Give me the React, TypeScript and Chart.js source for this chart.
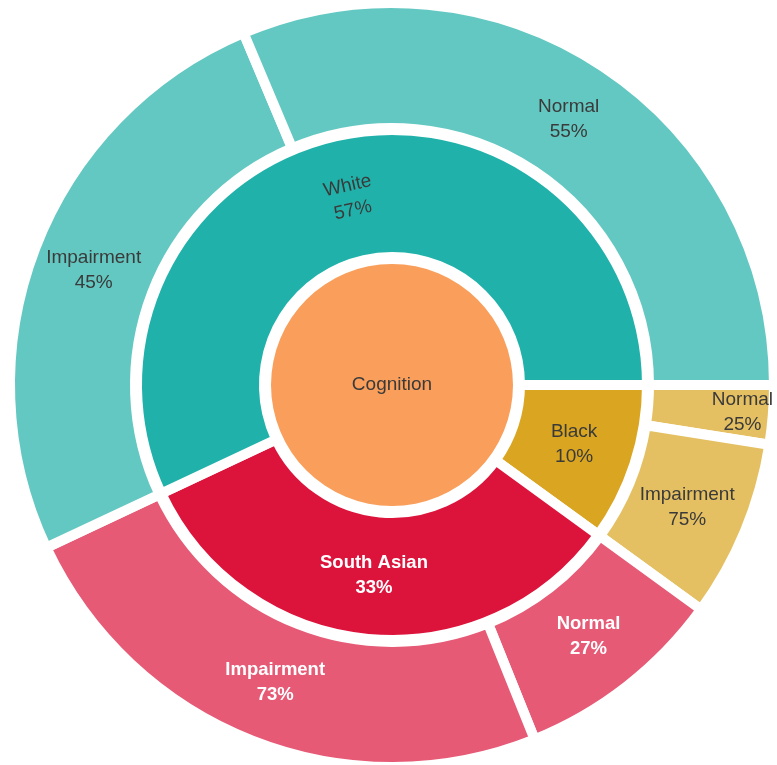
import React, { useEffect, useRef } from "react";
import { Chart, registerables } from "chart.js";

Chart.register(...registerables);

// ---- data ----
const ROOT_LABEL = "Cognition";
const GROUPS = ["Black", "South Asian", "White"];
const GROUP_SHARE = [10, 33, 57];
const CHILD_NAMES = [
  ["Normal", "Impairment"],
  ["Normal", "Impairment"],
  ["Impairment", "Normal"],
];
const CHILD_SHARE = [
  [25, 75],
  [27, 73],
  [45, 55],
];

// ---- styles ----
const ROOT_COLOR = "#f99f5b";
const GROUP_COLORS = ["#daa520", "#dc143c", "#20b2aa"];
const CHILD_COLORS = ["#e5c063", "#e65a76", "#64c8c2"];
const DARK_TEXT = "#3a3a3a";
const LIGHT_TEXT = "#ffffff";
const GROUP_TEXT_LIGHT = [false, true, false];
const GROUP_LABEL_ROTATE = [false, false, true];
const CHILD_LABEL_SHIFT = [
  [32, 0],
  [0, 0],
  [0, 0],
];

const outerValues: number[] = [];
const outerLabels: string[][] = [];
const outerColors: string[] = [];
const outerLight: boolean[] = [];
const outerShift: number[] = [];
GROUPS.forEach((g, gi) => {
  CHILD_NAMES[gi].forEach((name, ci) => {
    outerValues.push((GROUP_SHARE[gi] * CHILD_SHARE[gi][ci]) / 100);
    outerLabels.push([name, CHILD_SHARE[gi][ci] + "%"]);
    outerColors.push(CHILD_COLORS[gi]);
    outerLight.push(GROUP_TEXT_LIGHT[gi]);
    outerShift.push(CHILD_LABEL_SHIFT[gi][ci]);
  });
});

const labelPlugin = {
  id: "sunLabels",
  afterDatasetsDraw(chart: any) {
    const ctx = chart.ctx;
    chart.data.datasets.forEach((ds: any, di: number) => {
      if (!ds.labelTexts) return;
      const meta = chart.getDatasetMeta(di);
      meta.data.forEach((arc: any, i: number) => {
        const p = arc.getProps(["x", "y", "startAngle", "endAngle", "innerRadius", "outerRadius"], true);
        const lines: string[] = ds.labelTexts[i];
        const light = ds.labelLight[i];
        const rotate = ds.labelRotate ? ds.labelRotate[i] : false;
        const shift = ds.labelShift ? ds.labelShift[i] : 0;
        let cx = p.x;
        let cy = p.y;
        const mid = (p.startAngle + p.endAngle) / 2;
        if (p.innerRadius > 0) {
          const r = (p.innerRadius + p.outerRadius) / 2 + shift;
          cx = p.x + Math.cos(mid) * r;
          cy = p.y + Math.sin(mid) * r;
        }
        ctx.save();
        ctx.translate(cx, cy);
        if (rotate) {
          let rot = mid + Math.PI / 2;
          while (rot > Math.PI) rot -= 2 * Math.PI;
          if (rot > Math.PI / 2) rot -= Math.PI;
          if (rot < -Math.PI / 2) rot += Math.PI;
          ctx.rotate(rot);
        }
        ctx.fillStyle = light ? LIGHT_TEXT : DARK_TEXT;
        ctx.font = light ? "bold 18.5px 'Liberation Sans', Arial, sans-serif" : "19px 'Liberation Sans', Arial, sans-serif";
        ctx.textAlign = "center";
        ctx.textBaseline = "middle";
        const lh = 25;
        const n = lines.length;
        lines.forEach((t, li) => {
          ctx.fillText(t, 0, (li - (n - 1) / 2) * lh);
        });
        ctx.restore();
      });
    });
  },
};

export default function App() {
  const ref = useRef<HTMLCanvasElement | null>(null);
  useEffect(() => {
    if (!ref.current) return;
    const chart = new Chart(ref.current, {
      type: "doughnut",
      data: {
        labels: outerLabels.map((l) => l[0]),
        datasets: [
          {
            data: outerValues,
            backgroundColor: outerColors,
            borderColor: "#ffffff",
            borderWidth: 10,
            weight: 125,
            labelTexts: outerLabels,
            labelLight: outerLight,
            labelShift: outerShift,
          } as any,
          {
            data: [1],
            backgroundColor: ["rgba(0,0,0,0)"],
            borderWidth: 0,
            weight: 2,
          } as any,
          {
            data: GROUP_SHARE,
            backgroundColor: GROUP_COLORS,
            borderColor: "#ffffff",
            borderWidth: 10,
            weight: 127,
            labelTexts: GROUPS.map((g, i) => [g, GROUP_SHARE[i] + "%"]),
            labelLight: GROUP_TEXT_LIGHT,
            labelRotate: GROUP_LABEL_ROTATE,
          } as any,
          {
            data: [1],
            backgroundColor: ["rgba(0,0,0,0)"],
            borderWidth: 0,
            weight: 7,
          } as any,
          {
            data: [100],
            backgroundColor: [ROOT_COLOR],
            borderWidth: 0,
            weight: 121,
            labelTexts: [[ROOT_LABEL]],
            labelLight: [false],
          } as any,
        ],
      },
      options: {
        animation: false,
        responsive: true,
        maintainAspectRatio: false,
        events: [],
        rotation: 90,
        cutout: 0,
        radius: 382,
        layout: { padding: { left: 7, top: 5, right: 0, bottom: 0 } },
        plugins: {
          legend: { display: false },
          tooltip: { enabled: false },
        },
      } as any,
      plugins: [labelPlugin],
    });
    return () => chart.destroy();
  }, []);
  return (
    <div style={{ position: "fixed", left: 0, top: 0, width: 777, height: 765, background: "#fff" }}>
      <canvas ref={ref} />
    </div>
  );
}
